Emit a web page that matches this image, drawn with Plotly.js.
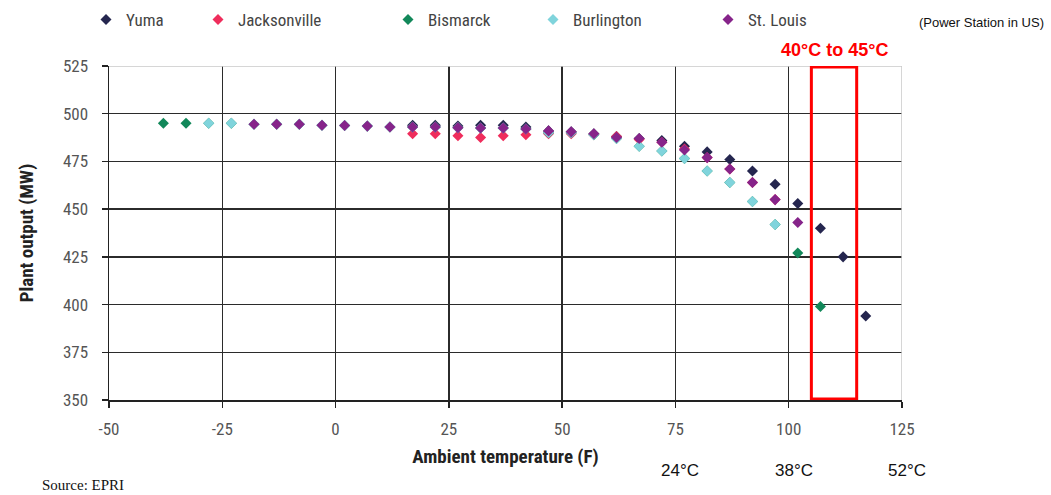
<!DOCTYPE html>
<html>
<head>
<meta charset="utf-8">
<script src="https://cdn.plot.ly/plotly-3.0.1.min.js"></script>
<style>html,body{margin:0;padding:0;background:#fff;}#chart{width:1051px;height:495px;}</style>
</head>
<body>
<div id="chart"></div>
<script>
// Ambient temperature (F) and plant output (MW)
const yumaTemp = [17, 22, 27, 32, 37, 42, 47, 52, 57, 62, 67, 72, 77, 82, 87, 92, 97, 102, 107, 112, 117];
const yumaMW   = [494, 494, 493.5, 494, 494, 493, 491, 490.5, 489.5, 488, 487, 486, 483, 480, 476, 470, 463, 453, 440, 425, 394];

const jacksonvilleTemp = [17, 22, 27, 32, 37, 42, 47, 52, 57, 62, 67, 72, 77, 82, 87, 92, 97];
const jacksonvilleMW   = [489.5, 489.5, 488.5, 487.5, 488.5, 489, 489.5, 489.5, 489, 488, 486.5, 485, 481.5, 477, 471, 464, 455];

const bismarckTemp = [-38, -33, -28, -23, -18, -13, -8, -3, 2, 7, 12, 17, 22, 27, 32, 37, 42, 47, 52, 57, 62, 67, 72, 77, 82, 87, 92, 97, 102, 107];
const bismarckMW   = [495, 495, 495, 495, 494.5, 494.5, 494.5, 494, 493.8, 493.5, 493, 493, 493, 492.7, 492.5, 492.5, 492, 490, 490, 489, 487, 483, 480.5, 476.5, 470, 464, 454, 442, 427, 399];

const burlingtonTemp = [-28, -23, -18, -13, -8, -3, 2, 7, 12, 17, 22, 27, 32, 37, 42, 47, 52, 57, 62, 67, 72, 77, 82, 87, 92, 97];
const burlingtonMW   = [495, 495, 494.5, 494.5, 494.5, 494, 493.8, 493.5, 493, 493, 493, 492.7, 492.5, 492.5, 492, 490, 490, 489, 487, 483, 480.5, 476.5, 470, 464, 454, 442];

const stLouisTemp = [-18, -13, -8, -3, 2, 7, 12, 17, 22, 27, 32, 37, 42, 47, 52, 57, 62, 67, 72, 77, 82, 87, 92, 97, 102];
const stLouisMW   = [494.5, 494.5, 494.5, 494, 493.8, 493.5, 493, 493, 493, 492.7, 492.5, 492.5, 492, 491, 490.5, 489.5, 487.5, 487, 485, 481, 477, 471, 464, 455, 443];

const seriesNames = ['Yuma', 'Jacksonville', 'Bismarck', 'Burlington', 'St. Louis'];
const seriesColors = ['#25264f', '#ef2d5c', '#12885a', '#80d4dc', '#86248a'];
const xTicks = [-50, -25, 0, 25, 50, 75, 100, 125];
const yTicks = [350, 375, 400, 425, 450, 475, 500, 525];
const celsiusLabels = ['24°C', '38°C', '52°C'];
const celsiusAtF = [75, 100, 125];
const hotBand = [105, 115];

const xs = [yumaTemp, jacksonvilleTemp, bismarckTemp, burlingtonTemp, stLouisTemp];
const ys = [yumaMW, jacksonvilleMW, bismarckMW, burlingtonMW, stLouisMW];

const legendTextX = [128, 240, 430, 575, 750];
const traces = seriesNames.map((n, i) => ({
  type: 'scatter', mode: 'markers', name: n,
  x: xs[i], y: ys[i],
  marker: {symbol: 'diamond', size: 8.5, color: seriesColors[i]},
  legend: i === 0 ? 'legend' : 'legend' + (i + 1)
}));

const condensed = '"Liberation Sans Narrow", "Roboto Condensed", Roboto, Arial, sans-serif';
const layout = {
  width: 1051, height: 495,
  margin: {l: 109, r: 149, t: 66, b: 95},
  paper_bgcolor: '#ffffff', plot_bgcolor: '#ffffff',
  showlegend: true,
  xaxis: {
    range: [-50, 125], tickvals: xTicks, ticktext: xTicks.map(String),
    showgrid: true, gridcolor: '#2b2b2b', gridwidth: 1.5,
    showline: true, linecolor: '#222', linewidth: 1.5,
    ticks: 'outside', ticklen: 6, tickcolor: '#222', tickwidth: 1.5,
    ticklabelstandoff: 7,
    zeroline: false,
    tickfont: {family: condensed, size: 17, color: '#555'},
    title: {text: '<b>Ambient temperature (F)</b>', font: {family: condensed, size: 19, color: '#222'}, standoff: 12}
  },
  yaxis: {
    range: [350, 525], tickvals: yTicks, ticktext: yTicks.map(String),
    showgrid: true, gridcolor: '#2b2b2b', gridwidth: 1.5,
    showline: true, linecolor: '#222', linewidth: 1.5,
    ticks: 'outside', ticklen: 6, tickcolor: '#222', tickwidth: 1.5,
    ticklabelstandoff: 10,
    zeroline: false,
    tickfont: {family: condensed, size: 17, color: '#555'},
    title: {text: '<b>Plant output (MW)</b>', font: {family: condensed, size: 19, color: '#222'}, standoff: 24}
  },
  shapes: [
    {type: 'line', xref: 'x', yref: 'y', x0: -50, x1: 125, y0: 525, y1: 525, line: {color: '#c8c8c8', width: 1.5}, layer: 'above'},
    {type: 'line', xref: 'x', yref: 'y', x0: 125, x1: 125, y0: 350, y1: 525, line: {color: '#c8c8c8', width: 1.5}, layer: 'above'},
    {type: 'rect', xref: 'x', yref: 'y', x0: hotBand[0], x1: hotBand[1], y0: 350.5, y1: 524.5, line: {color: '#ff0000', width: 3}, fillcolor: 'rgba(0,0,0,0)', layer: 'above'}
  ],
  annotations: [
    {text: '<b>40°C to 45°C</b>', xref: 'x', yref: 'paper', x: 110, y: 1, yshift: 16, yanchor: 'middle', showarrow: false, font: {family: 'Liberation Sans, Arial, sans-serif', size: 18, color: '#ff0000'}},
    {text: '(Power Station in US)', xref: 'paper', yref: 'paper', x: 1.182, y: 1, xanchor: 'right', yanchor: 'middle', yshift: 44, showarrow: false, font: {family: 'Liberation Sans, Arial, sans-serif', size: 13, color: '#111'}},
    {text: 'Source: EPRI', xref: 'paper', yref: 'paper', x: -0.087, xanchor: 'left', y: 0, yanchor: 'middle', yshift: -85, showarrow: false, font: {family: 'Liberation Serif, "Times New Roman", serif', size: 15, color: '#111'}}
  ].concat(celsiusLabels.map((t, i) => ({
    text: t, xref: 'x', yref: 'paper', x: celsiusAtF[i], xshift: 5, y: 0, yanchor: 'middle', yshift: -70, showarrow: false,
    font: {family: 'Liberation Sans, Arial, sans-serif', size: 17, color: '#111'}
  })))
};
seriesNames.forEach((n, i) => {
  const key = i === 0 ? 'legend' : 'legend' + (i + 1);
  layout[key] = {
    xref: 'container', yref: 'container',
    x: (legendTextX[i] - 42) / 1051, y: 1 - 2 / 495, xanchor: 'left', yanchor: 'top',
    orientation: 'h', bgcolor: 'rgba(0,0,0,0)', itemwidth: 30,
    font: {family: condensed, size: 17, color: '#444'}
  };
});
Plotly.newPlot('chart', traces, layout, {displayModeBar: false, staticPlot: true});
</script>
</body>
</html>
